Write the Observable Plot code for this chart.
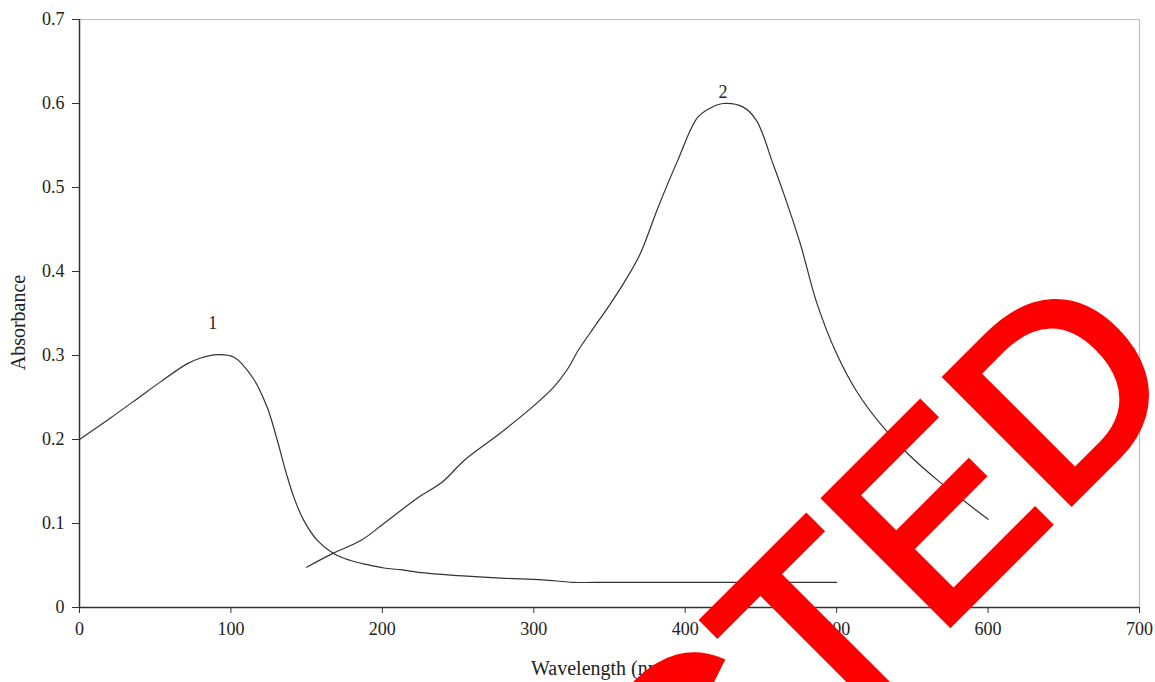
<!DOCTYPE html>
<html>
<head>
<meta charset="utf-8">
<script src="https://cdn.jsdelivr.net/npm/d3@7"></script>
<script src="https://cdn.jsdelivr.net/npm/@observablehq/plot@0.6"></script>
<style>
  html, body { margin: 0; padding: 0; background: #fff; }
  #chart { width: 1155px; height: 682px; overflow: hidden; }
</style>
</head>
<body>
<div id="chart"></div>
<script>
// ---- data ----
const xTicks = [0, 100, 200, 300, 400, 500, 600, 700];
const yTicks = [0, 0.1, 0.2, 0.3, 0.4, 0.5, 0.6, 0.7];

const curve1X = [0, 20, 40, 53, 71, 80, 91, 102, 115, 124, 130, 137, 142, 148, 157, 168, 179, 190, 201, 212, 223, 234, 250, 278, 306, 326, 350, 400, 450, 500];
const curve1Y = [0.2, 0.225, 0.251, 0.268, 0.29, 0.297, 0.301, 0.298, 0.272, 0.238, 0.203, 0.157, 0.129, 0.104, 0.080, 0.064, 0.056, 0.051, 0.047, 0.045, 0.042, 0.040, 0.038, 0.035, 0.033, 0.030, 0.030, 0.030, 0.030, 0.030];

const curve2X = [150, 168, 186, 201, 223, 240, 254, 276, 298, 313, 322, 330, 340, 350, 360, 370, 382, 395, 408, 417, 425, 438, 447, 458, 465, 476, 487, 500, 514, 531, 547, 567, 584, 600];
const curve2Y = [0.048, 0.065, 0.080, 0.100, 0.130, 0.150, 0.175, 0.205, 0.237, 0.262, 0.283, 0.308, 0.334, 0.360, 0.388, 0.420, 0.476, 0.532, 0.583, 0.595, 0.600, 0.596, 0.580, 0.528, 0.493, 0.433, 0.362, 0.302, 0.255, 0.214, 0.183, 0.151, 0.127, 0.105];

const curveLabels = ["1", "2"];
const curveLabelX = [88, 425];
const curveLabelY = [0.338, 0.614];

const xLabel = "Wavelength (nm)";
const yLabel = "Absorbance";
const stampText = "CORRECTED";

// ---- build tables ----
const c1 = curve1X.map((x, i) => ({x, y: curve1Y[i]}));
const c2 = curve2X.map((x, i) => ({x, y: curve2Y[i]}));
const lbls = curveLabels.map((t, i) => ({t, x: curveLabelX[i], y: curveLabelY[i]}));

const serif = "'Liberation Serif', 'Times New Roman', serif";

const chart = Plot.plot({
  width: 1155,
  height: 682,
  marginLeft: 79,
  marginRight: 16,
  marginTop: 19,
  marginBottom: 75,
  style: {fontFamily: serif, fontSize: "18px", background: "#fff", color: "#222"},
  x: {domain: [0, 700]},
  y: {domain: [0, 0.7]},
  marks: [
    Plot.ruleY([0.7], {stroke: "#bdbdbd", strokeWidth: 1.2}),
    Plot.ruleX([700], {stroke: "#bdbdbd", strokeWidth: 1.2}),
    Plot.axisX({ticks: xTicks, tickSize: 6, tickPadding: 9, label: null, tickFormat: d => String(d), stroke: "#333"}),
    Plot.axisY({ticks: yTicks, tickSize: 7, tickPadding: 8, label: null, tickFormat: d => String(d), stroke: "#333"}),
    Plot.ruleX([0], {stroke: "#333", strokeWidth: 1.5}),
    Plot.ruleY([0], {stroke: "#333", strokeWidth: 1.5}),
    Plot.line(c1, {x: "x", y: "y", curve: "catmull-rom", stroke: "#333", strokeWidth: 1.2}),
    Plot.line(c2, {x: "x", y: "y", curve: "catmull-rom", stroke: "#333", strokeWidth: 1.2}),
    Plot.text(lbls, {x: "x", y: "y", text: "t", fontSize: 18, fill: "#222", fontFamily: serif}),
    Plot.text([xLabel], {frameAnchor: "bottom", textAnchor: "middle", lineAnchor: "middle", dx: -9, dy: 61, fontSize: 20, fill: "#222", fontFamily: serif}),
    Plot.text([yLabel], {frameAnchor: "left", textAnchor: "middle", lineAnchor: "middle", dx: -61, dy: 9, rotate: -90, fontSize: 20, fill: "#222", fontFamily: serif}),
    Plot.text([stampText], {x: () => 732, y: () => 0.264, rotate: -45, textAnchor: "end", lineAnchor: "bottom",
      fontSize: 257, fill: "#ff0000", stroke: "#ff0000", strokeWidth: 7, strokeLinejoin: "miter",
      fontFamily: "'Liberation Sans', Arial, sans-serif"})
  ]
});
document.getElementById("chart").appendChild(chart);
</script>
</body>
</html>
